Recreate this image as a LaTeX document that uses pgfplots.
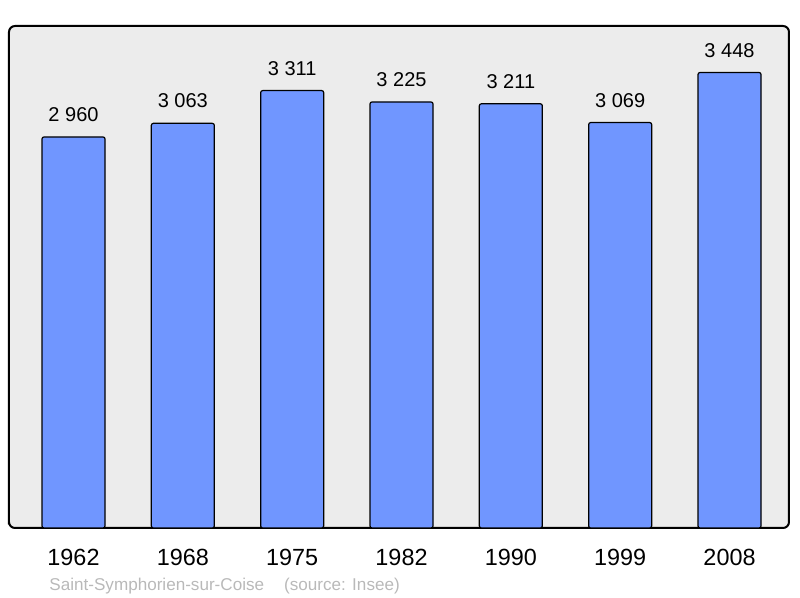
\documentclass[border=0pt]{standalone}
\usepackage{fontspec}
\setmainfont{Liberation Sans}
\usepackage{pgfplots}
\pgfplotsset{compat=1.18}
\definecolor{barblue}{RGB}{112,150,255}
\definecolor{panel}{RGB}{236,236,236}
\definecolor{srcgray}{RGB}{185,185,185}
\begin{document}
\begin{tikzpicture}
\path[use as bounding box] (0,0) rectangle (400pt,299pt);
\begin{axis}[
  at={(4.5pt,35pt)}, anchor=south west,
  scale only axis,
  width=390pt, height=251pt,
  xmin=-0.59, xmax=6.544,
  ymin=0, ymax=3800,
  axis background/.style={fill=panel, rounded corners=3pt},
  axis line style={line width=1pt, rounded corners=3pt},
  xtick={0,...,6},
  xticklabels={1962,1968,1975,1982,1990,1999,2008},
  xticklabel style={font=\fontsize{11.7}{12}\selectfont, yshift=-7pt},
  major tick length=0pt,
  ytick=\empty,
  /pgf/number format/assume math mode=true,
  nodes near coords,
  nodes near coords style={font=\fontsize{10}{11}\selectfont, anchor=south, yshift=4pt,
    /pgf/number format/.cd, 1000 sep={\ }, fixed},
  clip=false,
]
\addplot[ybar, bar width=31.5pt, fill=barblue, draw=black, line width=0.6pt, rounded corners=1pt]
  coordinates {(0,2960) (1,3063) (2,3311) (3,3225) (4,3211) (5,3069) (6,3448)};
\end{axis}
\node[anchor=base west, text=srcgray, font=\fontsize{8.55}{9}\selectfont, inner sep=0pt]
  at (24.5pt,3.5pt) {Saint-Symphorien-sur-Coise\hspace{10pt}(source: Insee)};
\end{tikzpicture}
\end{document}
